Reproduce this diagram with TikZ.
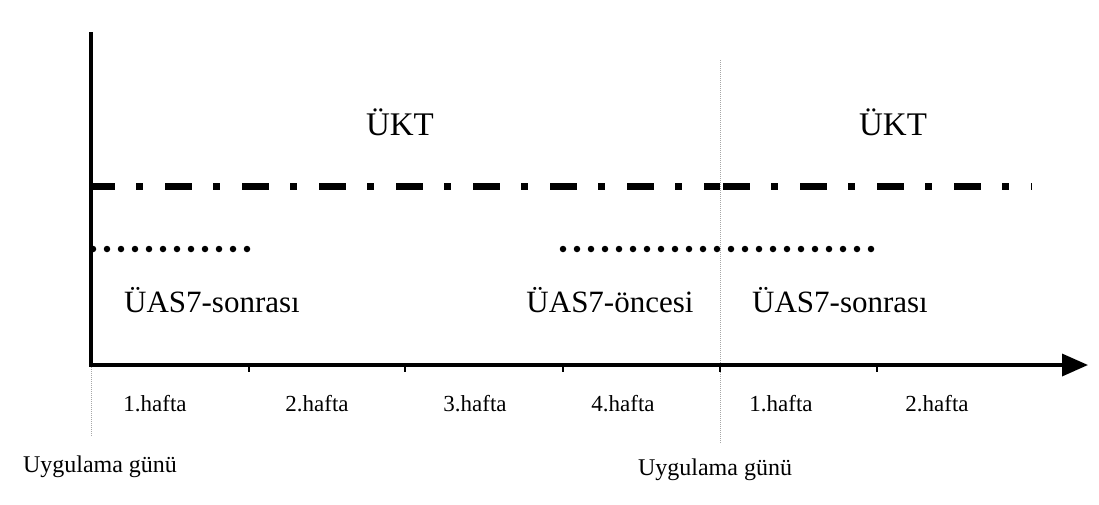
\documentclass[tikz,border=0pt]{standalone}
\usepackage{fontspec}
\setmainfont{Liberation Serif}
\usetikzlibrary{arrows.meta}

\begin{document}
\begin{tikzpicture}[x=1pt,y=-1pt,
    axis/.style={line width=3.5pt},
    guide/.style={gray!70,line width=0.8pt,dash pattern=on 1pt off 1pt},
    ukt/.style={line width=7pt,dash pattern=on 27pt off 21pt on 7pt off 22pt},
    uas/.style={line width=6.5pt,line cap=round,dash pattern=on 0pt off 14pt},
    big/.style={anchor=base,font=\fontsize{31}{36}\selectfont},
    week/.style={anchor=base,font=\fontsize{23}{27}\selectfont},
    day/.style={anchor=base,font=\fontsize{24}{28}\selectfont}]
    \useasboundingbox (0,0) rectangle (1099,504);

    \coordinate (top) at (91,32);
    \coordinate (o) at (91,365);
    \coordinate (xend) at (1088,365);
    \coordinate (g0) at (91,437);
    \coordinate (g1t) at (720,60);
    \coordinate (g1) at (720,443);

    % guides for the application days
    \draw[guide] (o) -- (g0);
    \draw[guide] (g1t) -- (g1);

    % axes
    \draw[axis,-{Triangle[length=26pt,width=22pt]}] (top) -- (o) -- (xend);
    \foreach \x in {249,405,563,720,877}
        \draw[line width=2pt] (\x,365) -- (\x,372);

    % lines
    \coordinate (k0) at (91,186);
    \coordinate (k1) at (720,186);
    \coordinate (k2) at (1032,186);
    \draw[ukt,dash phase=3pt] (k0) -- (k1);
    \draw[ukt,dash phase=74pt] (k1) -- (k2);

    \coordinate (d0) at (93,249);
    \coordinate (d1) at (249,249);
    \coordinate (d2) at (563,249);
    \coordinate (d3) at (873,249);
    \draw[uas] (d0) -- (d1);
    \draw[uas] (d2) -- (d3);

    % labels
    \node[big,font=\fontsize{33}{38}\selectfont] (ukt1) at (400,135) {ÜKT};
    \node[big,font=\fontsize{33}{38}\selectfont] (ukt2) at (893,135) {ÜKT};
    \node[big] (son1) at (212,312) {ÜAS7-sonrası};
    \node[big] (once) at (610,312) {ÜAS7-öncesi};
    \node[big] (son2) at (840,312) {ÜAS7-sonrası};

    \node[week] (w1) at (155,411) {1.hafta};
    \node[week] (w2) at (317,411) {2.hafta};
    \node[week] (w3) at (475,411) {3.hafta};
    \node[week] (w4) at (623,411) {4.hafta};
    \node[week] (w5) at (781,411) {1.hafta};
    \node[week] (w6) at (937,411) {2.hafta};

    \node[day] (gun1) at (100,472) {Uygulama günü};
    \node[day] (gun2) at (715,475) {Uygulama günü};
\end{tikzpicture}
\end{document}
